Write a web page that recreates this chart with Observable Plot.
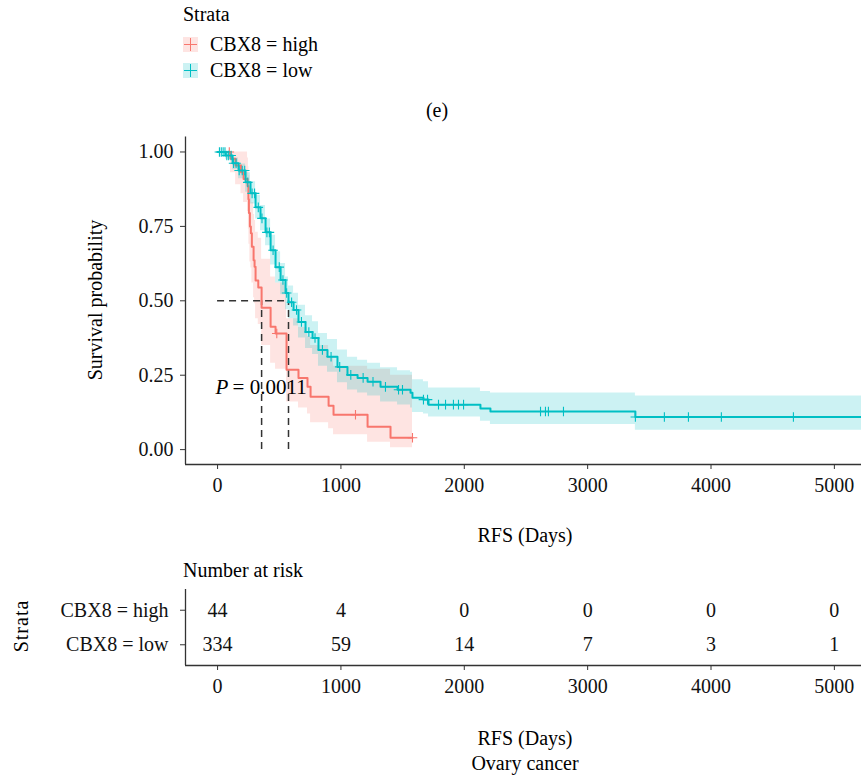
<!DOCTYPE html>
<html><head><meta charset="utf-8">
<script src="https://cdn.jsdelivr.net/npm/d3@7"></script>
<script src="https://cdn.jsdelivr.net/npm/@observablehq/plot@0.6"></script>
<style>
body{margin:0;background:#fff;}
#wrap{position:relative;width:861px;height:780px;font-family:"Liberation Serif","DejaVu Serif",serif;font-size:20px;color:#000;overflow:hidden;background:#fff;}
.t{position:absolute;white-space:nowrap;line-height:24px;height:24px;}
.key{position:absolute;width:15px;height:15px;}
.key .h{position:absolute;left:1px;top:7px;width:13px;height:1.6px;}
.key .v{position:absolute;left:6.7px;top:1px;width:1.6px;height:13px;}
.plot{position:absolute;left:0;}
</style></head><body><div id="wrap"></div>
<script>
// ---------- data ----------
const groups = ["CBX8 = high", "CBX8 = low"];
const colors = ["#F8766D", "#00BFC4"];
const bandColors = ["#FEE4E2", "#CCF2F3"];

const highTime  = [0,105,146,190,211,243,250,254,262,270,278,292,300,308,330,357,430,470,559,656,729,754,900,940,1216,1402,1580];
const highSurv  = [1,0.977,0.955,0.932,0.909,0.886,0.841,0.795,0.75,0.727,0.682,0.636,0.614,0.568,0.545,0.477,0.413,0.39,0.268,0.241,0.211,0.178,0.147,0.117,0.077,0.04,0.04];
const highLower = [1,0.93,0.89,0.86,0.83,0.80,0.74,0.69,0.63,0.61,0.56,0.51,0.49,0.44,0.42,0.35,0.29,0.27,0.16,0.14,0.12,0.09,0.07,0.05,0.025,0.006,0.006];
const highUpper = [1,1,1,1,1,0.98,0.95,0.92,0.89,0.87,0.83,0.79,0.77,0.73,0.71,0.64,0.58,0.56,0.44,0.41,0.38,0.35,0.31,0.28,0.27,0.25,0.25];
const highCensor = [95,480,1118,1580];

const lowTime  = [0,65,122,170,227,267,308,348,389,430,470,511,551,575,616,656,713,770,818,891,972,1053,1135,1216,1321,1459,1564,1580,1669,1710,2131,2212,3387,5220];
const lowSurv  = [1,0.988,0.962,0.938,0.898,0.861,0.814,0.777,0.730,0.670,0.613,0.570,0.526,0.495,0.469,0.429,0.395,0.375,0.335,0.312,0.278,0.251,0.241,0.228,0.211,0.201,0.191,0.174,0.168,0.151,0.138,0.128,0.1095,0.1095];
const lowLower = [1,0.976,0.94,0.91,0.865,0.825,0.775,0.735,0.685,0.62,0.56,0.52,0.47,0.44,0.415,0.375,0.34,0.32,0.28,0.26,0.225,0.20,0.19,0.18,0.16,0.15,0.14,0.125,0.12,0.11,0.095,0.084,0.065,0.065];
const lowUpper = [1,1,0.98,0.96,0.93,0.90,0.855,0.82,0.775,0.72,0.665,0.625,0.58,0.55,0.525,0.485,0.45,0.43,0.39,0.37,0.335,0.31,0.30,0.29,0.275,0.265,0.26,0.235,0.228,0.207,0.195,0.19,0.18,0.18];
const lowCensor = [15,30,45,60,75,90,110,130,150,175,200,220,245,280,300,330,360,400,420,450,500,530,560,600,640,680,740,790,850,920,990,1080,1180,1260,1361,1467,1499,1669,1702,1791,1848,1912,1953,1994,2618,2658,2682,2804,3387,3622,3817,4084,4668];

const medians = [357, 575];
const pValue = "0.0011";
const xTicks = [0,1000,2000,3000,4000,5000];
const yTicks = [0,0.25,0.5,0.75,1];
const riskTimes = [0,1000,2000,3000,4000,5000];
const riskHigh = [44,4,0,0,0,0];
const riskLow  = [334,59,14,7,3,1];

// ---------- build tables ----------
function rows(g, T, S, L, U) { return T.map((t,i)=>({strata:g, t, s:S[i], lo:L[i], hi:U[i]})); }
function stepAt(T, S, t) { let v = S[0]; for (let i=0;i<T.length;i++) if (T[i] <= t) v = S[i]; return v; }
const hiRows = rows(groups[0], highTime, highSurv, highLower, highUpper);
const loRows = rows(groups[1], lowTime, lowSurv, lowLower, lowUpper);
const hiCens = highCensor.map(t=>({t, s: stepAt(highTime, highSurv, t)}));
const loCens = lowCensor.map(t=>({t, s: stepAt(lowTime, lowSurv, t)}));

const xDomain = [-260, 5220];
const font = "'Liberation Serif', 'DejaVu Serif', serif";
const axisCol = "#333";
const xFmt = d3.format("d");

const main = Plot.plot({
  width: 861, height: 440,
  marginLeft: 185, marginRight: 0, marginTop: 16.6, marginBottom: 96,
  style: {fontFamily: font, fontSize: "20px", color: "#111", background: "transparent"},
  x: {domain: xDomain},
  y: {domain: [-0.05, 1.05]},
  marks: [
    Plot.areaY(hiRows, {x:"t", y1:"lo", y2:"hi", fill: colors[0], fillOpacity: 0.2, curve: "step-after", clip: true}),
    Plot.areaY(loRows, {x:"t", y1:"lo", y2:"hi", fill: colors[1], fillOpacity: 0.2, curve: "step-after", clip: true}),
    Plot.ruleY([0.5], {x1: 0, x2: medians[1], stroke: "#333", strokeWidth: 1.5, strokeDasharray: "7,5"}),
    Plot.ruleX(medians, {y1: 0, y2: 0.5, stroke: "#333", strokeWidth: 1.5, strokeDasharray: "7,5"}),
    Plot.lineY(hiRows, {x:"t", y:"s", stroke: colors[0], strokeWidth: 2, curve: "step-after", clip: true}),
    Plot.lineY(loRows, {x:"t", y:"s", stroke: colors[1], strokeWidth: 2, curve: "step-after", clip: true}),
    Plot.dot(hiCens, {x:"t", y:"s", symbol: "plus", r: 3.2, stroke: colors[0], strokeWidth: 1.1}),
    Plot.dot(loCens, {x:"t", y:"s", symbol: "plus", r: 3.2, stroke: colors[1], strokeWidth: 1.1}),
    Plot.text(["P"], {x: 0, y: 0.208, text: d=>d, textAnchor: "start", dx: -2, fontSize: 21, fontStyle: "italic", fill: "#000"}),
    Plot.text([pValue], {x: 0, y: 0.208, text: d=>"= " + d, textAnchor: "start", dx: 15, fontSize: 21, fill: "#000"}),
    Plot.ruleX([xDomain[0]], {y1: -0.05, y2: 1.05, stroke: axisCol, strokeWidth: 1.3}),
    Plot.ruleY([-0.05], {stroke: axisCol, strokeWidth: 1.3}),
    Plot.axisX({ticks: xTicks, tickFormat: xFmt, tickSize: 5, tickPadding: 8, fontSize: 20, label: null, stroke: axisCol, fill: "#111"}),
    Plot.axisY({ticks: yTicks, tickFormat: d3.format(".2f"), tickSize: 5, tickPadding: 7, fontSize: 20, label: null, stroke: axisCol, fill: "#111"})
  ]
});

const riskRows = riskTimes.flatMap((t,i)=>[{t, row:1, n: riskHigh[i]}, {t, row:2, n: riskLow[i]}]);
const risk = Plot.plot({
  width: 861, height: 140,
  marginLeft: 185, marginRight: 0, marginTop: 29, marginBottom: 35,
  style: {fontFamily: font, fontSize: "20px", color: "#111", background: "transparent"},
  x: {domain: xDomain},
  y: {domain: [2.6, 0.4]},
  marks: [
    Plot.text(riskRows, {x:"t", y:"row", text:"n", fontSize: 20, fill: "#111"}),
    Plot.ruleX([xDomain[0]], {stroke: axisCol, strokeWidth: 1.3}),
    Plot.ruleY([2.6], {stroke: axisCol, strokeWidth: 1.3}),
    Plot.axisX({ticks: xTicks, tickFormat: xFmt, tickSize: 5, tickPadding: 8, fontSize: 20, label: null, stroke: axisCol, fill: "#111"}),
    Plot.axisY({ticks: [1,2], tickFormat: d => groups[d-1], tickSize: 5, tickPadding: 12, fontSize: 20, label: null, stroke: axisCol, fill: "#111"})
  ]
});

// ---------- layout ----------
const wrap = document.getElementById("wrap");
main.classList.add("plot"); main.style.top = "120px";
risk.classList.add("plot"); risk.style.top = "560px";
wrap.appendChild(main); wrap.appendChild(risk);

function txt(s, cx, cy, opts={}) {
  const d = document.createElement("div");
  d.className = "t"; d.textContent = s;
  d.style.top = (cy - 12) + "px";
  if (opts.left != null) d.style.left = opts.left + "px";
  else { d.style.left = cx + "px"; d.style.transform = "translateX(-50%)" + (opts.rot ? " rotate(-90deg)" : ""); }
  if (opts.rot) d.style.transformOrigin = "50% 50%";
  if (opts.style) Object.assign(d.style, opts.style);
  wrap.appendChild(d); return d;
}
txt("Strata", 0, 14, {left: 183});
groups.forEach((g, i) => {
  const cy = [44, 70][i];
  const k = document.createElement("div"); k.className = "key";
  k.style.left = "183px"; k.style.top = (cy - 7.5) + "px"; k.style.background = bandColors[i];
  k.innerHTML = `<div class="h" style="background:${colors[i]}"></div><div class="v" style="background:${colors[i]}"></div>`;
  wrap.appendChild(k);
  txt(g, 0, cy, {left: 210});
});
txt("(e)", 437, 110);
txt("Survival probability", 95, 300, {rot: true});
txt("RFS (Days)", 525, 535);
txt("Number at risk", 0, 570, {left: 183});
txt("Strata", 21, 626, {rot: true, style: {letterSpacing: "1px"}});
txt("RFS (Days)", 525, 738);
txt("Ovary cancer", 525, 763);
</script></body></html>
